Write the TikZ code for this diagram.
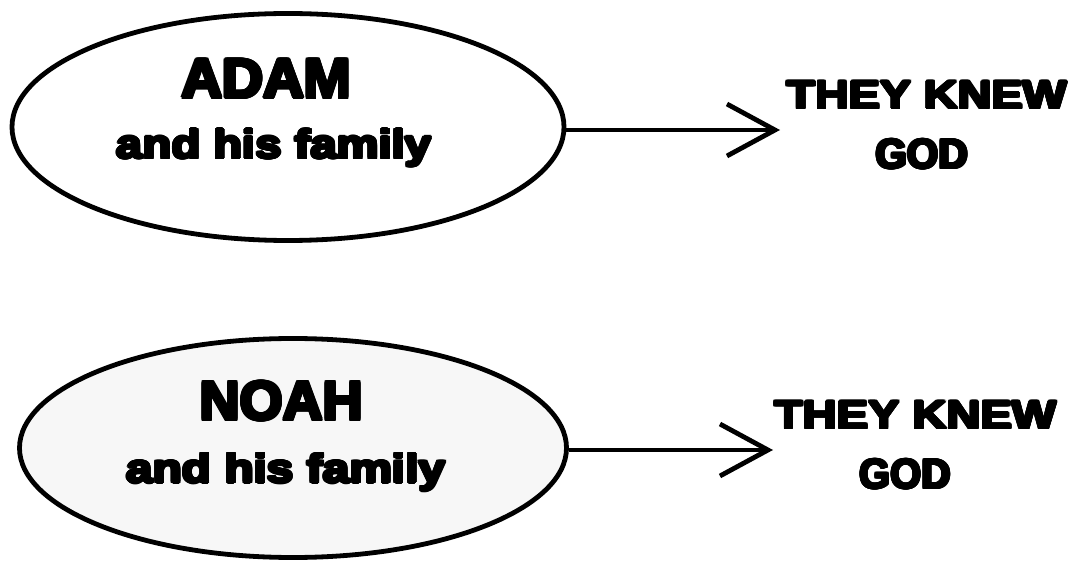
\documentclass[tikz,border=0pt]{standalone}
\usepackage{fontspec}
\usepackage{graphicx}
\usetikzlibrary{shapes.geometric,arrows.meta}
\newfontfamily\heavy{Liberation Sans Bold}
\newsavebox\fatbox
\newcommand\fat[2]{\sbox\fatbox{#2}%
  \foreach \a in {0,22.5,...,337.5}{%
    \pgfmathsetlengthmacro\fdx{#1*cos(\a)}%
    \pgfmathsetlengthmacro\fdy{#1*sin(\a)}%
    \rlap{\kern\fdx\raisebox{\fdy}{\usebox\fatbox}}}%
  \usebox\fatbox}
\newcommand\fit[3]{\resizebox{#1}{#2}{#3}}
\begin{document}
\begin{tikzpicture}[x=0.5pt,y=-0.5pt]
\tikzset{
  oval/.style={draw,ellipse,line width=2.4pt,inner sep=0pt},
  txt/.style={font=\heavy\fontsize{24}{28}\selectfont,inner sep=0pt,anchor=base},
  conn/.style={line width=2.4pt,-{Straight Barb[length=24pt,width=26pt]}}
}
\useasboundingbox (0,0) rectangle (1077,561);
% top
\node[oval,minimum width=276pt,minimum height=113.5pt] (e1) at (288,127) {};
\node[txt] (adam) at (266.5,98) {\fat{0.9pt}{\fit{84.7pt}{19.2pt}{ADAM}}};
\node[txt] (fam1) at (274,158.5) {\fat{0.75pt}{\fit{157.5pt}{14.5pt}{and his family}}};
\coordinate (t1) at (780,130);
\draw[conn] (e1.east |- t1) -- (t1);
\node[txt] (k1) at (927,108.6) {\fat{0.7pt}{\fit{140.1pt}{13.6pt}{THEY KNEW}}};
\node[txt] (g1) at (922,168.6) {\fat{0.7pt}{\fit{46.1pt}{14.6pt}{GOD}}};
% bottom
\node[oval,fill=gray!6,minimum width=273.5pt,minimum height=109.5pt] (e2) at (293,448) {};
\node[txt] (noah) at (281.5,420) {\fat{0.9pt}{\fit{81.7pt}{19.2pt}{NOAH}}};
\node[txt] (fam2) at (286,482.5) {\fat{0.75pt}{\fit{159.5pt}{14.5pt}{and his family}}};
\coordinate (t2) at (773,450);
\draw[conn] (e2.east |- t2) -- (t2);
\node[txt] (k2) at (915.5,428.6) {\fat{0.7pt}{\fit{141.1pt}{13.6pt}{THEY KNEW}}};
\node[txt] (g2) at (905,488.6) {\fat{0.7pt}{\fit{45.6pt}{14.6pt}{GOD}}};
\end{tikzpicture}
\end{document}
